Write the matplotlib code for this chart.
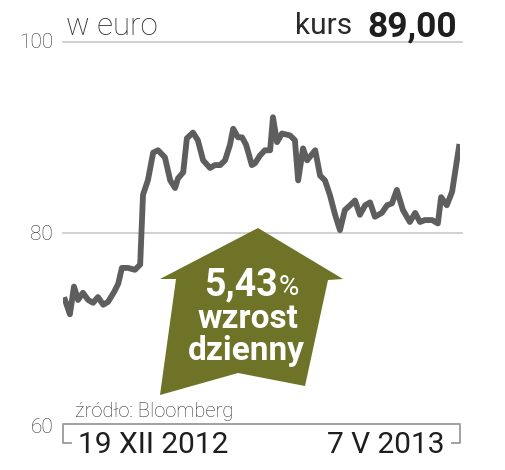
import matplotlib
matplotlib.use("Agg")
import matplotlib.pyplot as plt
from matplotlib.patches import Polygon

# Kurs akcji (EUR), dzien sesyjny od 19 XII 2012 do 7 V 2013
days = [0, 1.2, 2.2, 3.2, 4.4, 5.7, 6.9, 8.1, 9.4, 10.6, 12.1, 13.1, 14.0, 15.5, 17.2,
        18.5, 19.2, 20.4, 21.7, 22.9, 24.6, 25.9, 27.1, 27.8, 29.1, 30.0, 31.5, 32.7,
        34.0, 35.7, 36.9, 38.2, 39.4, 40.6, 41.4, 42.6, 43.6, 44.6, 46.0, 46.8, 48.0,
        49.2, 50.5, 51.2, 52.2, 53.4, 55.4, 56.6, 57.4, 58.6, 59.6, 61.6, 62.8, 64.0,
        65.2, 66.5, 67.7, 68.9, 70.2, 71.4, 72.6, 73.9, 75.1, 76.3, 78.0, 79.3, 80.5,
        81.7, 83.2, 84.9, 86.2, 87.4, 88.6, 90.4, 91.8, 92.6, 94.0, 95.3, 97.0]
price = [73.0, 71.5, 74.4, 73.0, 73.75, 73.0, 72.7, 73.3, 72.5, 72.8, 73.85, 74.7, 76.35,
         76.35, 76.15, 76.7, 84.0, 85.5, 88.4, 88.65, 87.9, 85.5, 84.7, 85.7, 86.35, 89.9,
         90.5, 89.7, 87.6, 86.8, 87.1, 87.1, 87.6, 89.2, 90.9, 90.0, 90.0, 89.2, 87.1,
         87.3, 88.1, 88.65, 88.65, 92.1, 89.5, 90.4, 90.2, 89.7, 85.5, 88.85, 87.6, 88.65,
         86.0, 85.5, 84.0, 81.9, 80.3, 82.4, 82.9, 83.4, 81.9, 82.9, 83.2, 81.7, 82.1,
         82.9, 83.1, 84.5, 82.4, 81.15, 82.1, 81.15, 81.35, 81.35, 81.0, 83.75, 82.9,
         84.3, 89.0]

yticks = [60, 80, 100]
date_labels = ["19 XII 2012", "7 V 2013"]
last_price = "89,00"
change = "5,43"

W, H = 506, 470
plt.rcParams['font.family'] = ['Roboto', 'DejaVu Sans']


def fx(x):
    return x / W


def fy(y):
    return 1 - y / H


fig = plt.figure(figsize=(W / 100, H / 100), dpi=100)
ax = fig.add_axes([fx(63), fy(424.3), fx(460) - fx(63), fy(41.7) - fy(424.3)])
ax.set_xlim(-0.5, 97.25)
ax.set_ylim(60, 100)
ax.axis("off")

# gridlines
for v in yticks[1:]:
    ax.axhline(v, color="#c8c8c8", lw=1.2, xmax=1.005, clip_on=False)
# bottom bracket
ax.plot([1.5, -0.5, -0.5, 97.25, 97.25, 95.25], [58.05, 58.05, 60, 60, 58.05, 58.05],
        color="#9a9a9a", lw=1.3, clip_on=False)

# arrow (behind line)
arrow = [(258, 228), (343, 279), (328, 280), (305, 386), (238, 373), (160, 395),
         (176, 279), (160, 279)]
fig.patches.append(Polygon([(fx(x), fy(y)) for x, y in arrow], closed=True,
                           transform=fig.transFigure, facecolor="#6e7328",
                           edgecolor="none", zorder=1))

ax.plot(days, price, color="#5e5e5e", lw=4.2, solid_joinstyle="round", zorder=3)

# y labels
for v, yb in zip(yticks, [433, 240, 48]):
    fig.text(fx(53), fy(yb), str(v), ha="right", va="baseline", fontsize=15,
             color="#333333", fontweight="light")

fig.text(fx(66), fy(35), "w euro", ha="left", va="baseline", fontsize=22.5,
         color="#2a2a2a", fontweight="light")
fig.text(fx(352), fy(34), "kurs", ha="right", va="baseline", fontsize=21.5,
         color="#2a2a2a")
fig.text(fx(457), fy(36), last_price, ha="right", va="baseline", fontsize=25.5,
         color="#1e1e1e", fontweight="bold")

fig.text(fx(75), fy(417), "źródło: Bloomberg", ha="left", va="baseline", fontsize=14.5,
         color="#333333", fontweight="light")
fig.text(fx(78), fy(453), date_labels[0], ha="left", va="baseline", fontsize=21.5,
         color="#1e1e1e")
fig.text(fx(445), fy(453), date_labels[1], ha="right", va="baseline", fontsize=21.5,
         color="#1e1e1e")

# text on arrow
fig.text(fx(278), fy(295), change, ha="right", va="baseline", fontsize=27,
         color="white", fontweight="bold", zorder=5)
fig.text(fx(279), fy(295), "%", ha="left", va="baseline", fontsize=20,
         color="white", zorder=5)
fig.text(fx(248), fy(328), "wzrost", ha="center", va="baseline", fontsize=24,
         color="white", fontweight="bold", zorder=5)
fig.text(fx(246), fy(360), "dzienny", ha="center", va="baseline", fontsize=24,
         color="white", fontweight="bold", zorder=5)

fig.savefig("out.png", dpi=100)
